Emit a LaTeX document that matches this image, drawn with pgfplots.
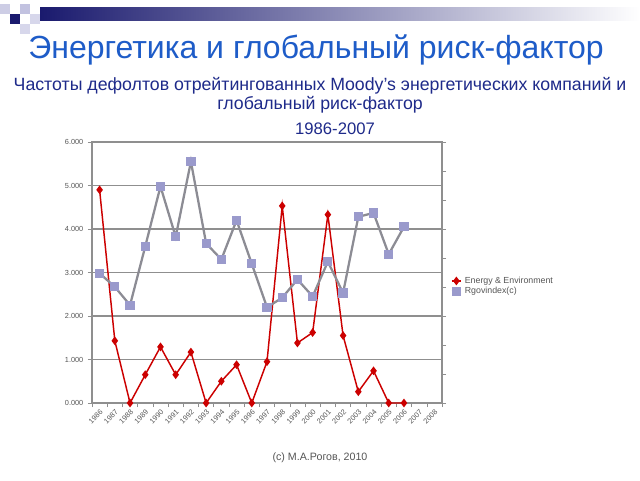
\documentclass[border=0pt]{standalone}
\usepackage{pgfplots}
\pgfplotsset{compat=1.18}
\usepackage{fontspec}
\setmainfont{Liberation Sans}
\definecolor{titleblue}{HTML}{1E5CC8}
\definecolor{subblue}{HTML}{1E2A8A}
\definecolor{navy}{HTML}{1A1A6E}
\definecolor{redline}{HTML}{CC0000}
\definecolor{grayline}{HTML}{8C8C94}
\definecolor{lav}{HTML}{9A9ACC}
\definecolor{gridc}{HTML}{8F8F8F}
\definecolor{tickc}{HTML}{555555}
\pgfplotstableread{
x e r
0 4.90 2.98
1 1.43 2.67
2 0.00 2.25
3 0.65 3.60
4 1.29 4.98
5 0.65 3.82
6 1.17 5.55
7 0.00 3.67
8 0.50 3.30
9 0.88 4.20
10 0.00 3.20
11 0.95 2.20
12 4.53 2.42
13 1.38 2.84
14 1.62 2.45
15 4.33 3.25
16 1.55 2.53
17 0.26 4.28
18 0.74 4.37
19 0.00 3.42
20 0.00 4.05
}\datatab
\begin{document}
\begin{tikzpicture}
\useasboundingbox[fill=white] (0,0) rectangle (480pt,360pt);
% decoration
\shade[left color=navy, right color=white] (30pt,345pt) rectangle (480pt,354.75pt);
\fill[navy] (7.5pt,342pt) rectangle (15pt,349.5pt);
\fill[lav!60] (15pt,349.5pt) rectangle (22.5pt,357pt);
\fill[lav!40] (22.5pt,342pt) rectangle (30pt,349.5pt);
\fill[lav!50] (0pt,349.5pt) rectangle (7.5pt,357pt);
\fill[lav!40] (15pt,334.5pt) rectangle (22.5pt,342pt);
% titles
\node[text=titleblue, font=\fontsize{24}{27}\selectfont] at (237pt,322.5pt) {Энергетика и глобальный риск-фактор};
\node[text=subblue, font=\fontsize{13.3}{15}\selectfont] at (240pt,295.5pt) {Частоты дефолтов отрейтингованных Moody’s энергетических компаний и};
\node[text=subblue, font=\fontsize{13.3}{15}\selectfont] at (240pt,281.25pt) {глобальный риск-фактор};
\node[text=subblue, font=\fontsize{12.5}{14}\selectfont] at (251.25pt,263.25pt) {1986-2007};
\node[text=tickc, font=\fontsize{8}{9}\selectfont] at (240pt,16.5pt) {(c) M.A.Рогов, 2010};
\begin{axis}[
  at={(69pt,57.75pt)}, anchor=south west,
  scale only axis, width=262.5pt, height=195.75pt,
  xmin=-0.5, xmax=22.5, ymin=0, ymax=6,
  xtick={0,...,22},
  xticklabels={1986,1987,1988,1989,1990,1991,1992,1993,1994,1995,1996,1997,1998,1999,2000,2001,2002,2003,2004,2005,2006,2007,2008},
  minor xtick={-0.5,0.5,...,22.5},
  xtick pos=bottom, ytick pos=left,
  tick align=outside,
  major x tick style={draw=none},
  minor tick length=3pt, major tick length=3pt,
  every tick/.style={gridc},
  ytick={0,1,...,6},
  ymajorgrids, grid style={gridc, line width=0.9pt},
  axis line style={gridc, line width=0.9pt},
  x tick label style={rotate=45, anchor=north east, font=\fontsize{5.5}{6}\selectfont, text=tickc, inner sep=1pt},
  y tick label style={font=\fontsize{5.5}{6}\selectfont, text=tickc},
  yticklabel style={/pgf/number format/.cd, fixed, fixed zerofill, precision=3, assume math mode=true},
  legend style={at={(1.02,0.50)}, anchor=north west, draw=none, fill=none, font=\fontsize{6.6}{7.5}\selectfont, text=tickc, row sep=-2.5pt, inner sep=1pt},
  legend cell align=left,
  legend image code/.code={\draw[#1] (0pt,0pt) -- (7pt,0pt); \draw[#1, mark repeat=1] plot coordinates {(3.5pt,0pt)};},
]
\addplot[redline, line width=1.1pt, mark=diamond*, mark size=2.4pt, mark options={fill=redline, draw=redline}] table[x=x, y=e] {\datatab};
\addlegendentry{Energy \& Environment}
\addplot[grayline, line width=1.7pt, mark=square*, mark size=2.6pt, mark options={fill=lav, draw=lav}] table[x=x, y=r] {\datatab};
\addlegendentry{Rgovindex(c)}
\end{axis}
\begin{axis}[
  at={(69pt,57.75pt)}, anchor=south west,
  scale only axis, width=262.5pt, height=195.75pt,
  xmin=-0.5, xmax=22.5, ymin=0, ymax=9,
  hide x axis,
  axis y line*=right,
  axis line style={gridc, line width=0.9pt},
  ytick={0,...,9}, yticklabels={},
  tick align=outside, major tick length=3pt,
  every tick/.style={gridc},
]
\addplot[draw=none] coordinates {(0,0)};
\end{axis}
\end{tikzpicture}
\end{document}
